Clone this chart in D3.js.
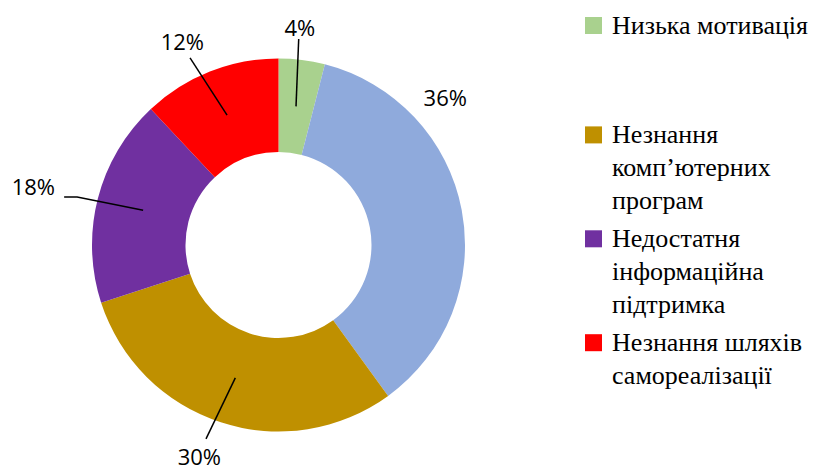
<!DOCTYPE html>
<html>
<head>
<meta charset="utf-8">
<script src="https://cdn.jsdelivr.net/npm/d3@7"></script>
<style>
  body { margin: 0; background: #fff; }
  .legend text { font-family: "Liberation Serif", "Times New Roman", serif; font-size: 26px; fill: #000; }
  .pct { font-family: "Open Sans", "Noto Sans", sans-serif; font-size: 22px; fill: #000; }
</style>
</head>
<body>
<script>
// data
var categories = ["Низька мотивація", "", "Незнання комп’ютерних програм", "Недостатня інформаційна підтримка", "Незнання шляхів самореалізації"];
var values = [4, 36, 30, 18, 12];
var pctLabels = ["4%", "36%", "30%", "18%", "12%"];
var legendLines = [["Низька мотивація"], ["", ""], ["Незнання", "комп’ютерних", "програм"], ["Недостатня", "інформаційна", "підтримка"], ["Незнання шляхів", "самореалізації"]];
var colors = ["#A9D18E", "#8FAADC", "#BF9000", "#7030A0", "#FF0000"];

// label layout: angle nudge (deg) from slice middle, text radius, leader on/off
var labelNudge = [-1.6, -30.5, 2.5, -1.0, -3.7];
var labelRadius = [218, 222, 226, 252, 225];
var hasLeader = [true, false, true, true, true];

var width = 817, height = 471;
var cx = 278.5, cy = 245, outerR = 186.5, innerR = 93;

var svg = d3.select("body").append("svg")
    .attr("width", width)
    .attr("height", height);

var g = svg.append("g")
    .attr("transform", "translate(" + cx + "," + cy + ")");

var pie = d3.pie().sort(null).value(function (d) { return d; });
var arcs = pie(values);

var arc = d3.arc().innerRadius(innerR).outerRadius(outerR);

g.selectAll(".slice")
    .data(arcs)
    .enter()
    .append("path")
    .attr("class", "slice")
    .attr("d", arc)
    .attr("fill", function (d, i) { return colors[i]; });

function polar(angle, r) {
    return [r * Math.sin(angle), -r * Math.cos(angle)];
}

// leader lines + percent labels
arcs.forEach(function (d, i) {
    var mid = (d.startAngle + d.endAngle) / 2;
    var a = mid + labelNudge[i] * Math.PI / 180;
    var c = arc.centroid(d);
    if (hasLeader[i]) {
        var end = polar(a, 207);
        var pts = [c, end];
        if (Math.abs(Math.sin(a)) > 0.9) {
            // short horizontal stub towards the side label
            var dir = Math.sin(a) < 0 ? -1 : 1;
            pts.push([end[0] + dir * 13, end[1]]);
        }
        g.append("path")
            .attr("d", d3.line()(pts))
            .attr("fill", "none")
            .attr("stroke", "#000")
            .attr("stroke-width", 1.5);
    }
    var p = polar(a, labelRadius[i]);
    g.append("text")
        .attr("class", "pct")
        .attr("x", p[0])
        .attr("y", p[1])
        .attr("dy", "0.36em")
        .attr("text-anchor", "middle")
        .text(pctLabels[i]);
});

// legend
var legend = svg.append("g").attr("class", "legend");
var lineH = 32.8, gap = 5.5, y0 = 34;
var yy = y0;
legendLines.forEach(function (lines, i) {
    var item = legend.append("g");
    if (categories[i] !== "") {
        item.append("rect")
            .attr("x", 585)
            .attr("y", yy - 17)
            .attr("width", 17)
            .attr("height", 17)
            .attr("fill", colors[i]);
        var t = item.append("text")
            .attr("x", 612)
            .attr("y", yy);
        lines.forEach(function (ln, k) {
            t.append("tspan")
                .attr("x", 612)
                .attr("y", yy + k * lineH)
                .text(ln);
        });
    }
    yy += lines.length * lineH + gap;
});
</script>
</body>
</html>
